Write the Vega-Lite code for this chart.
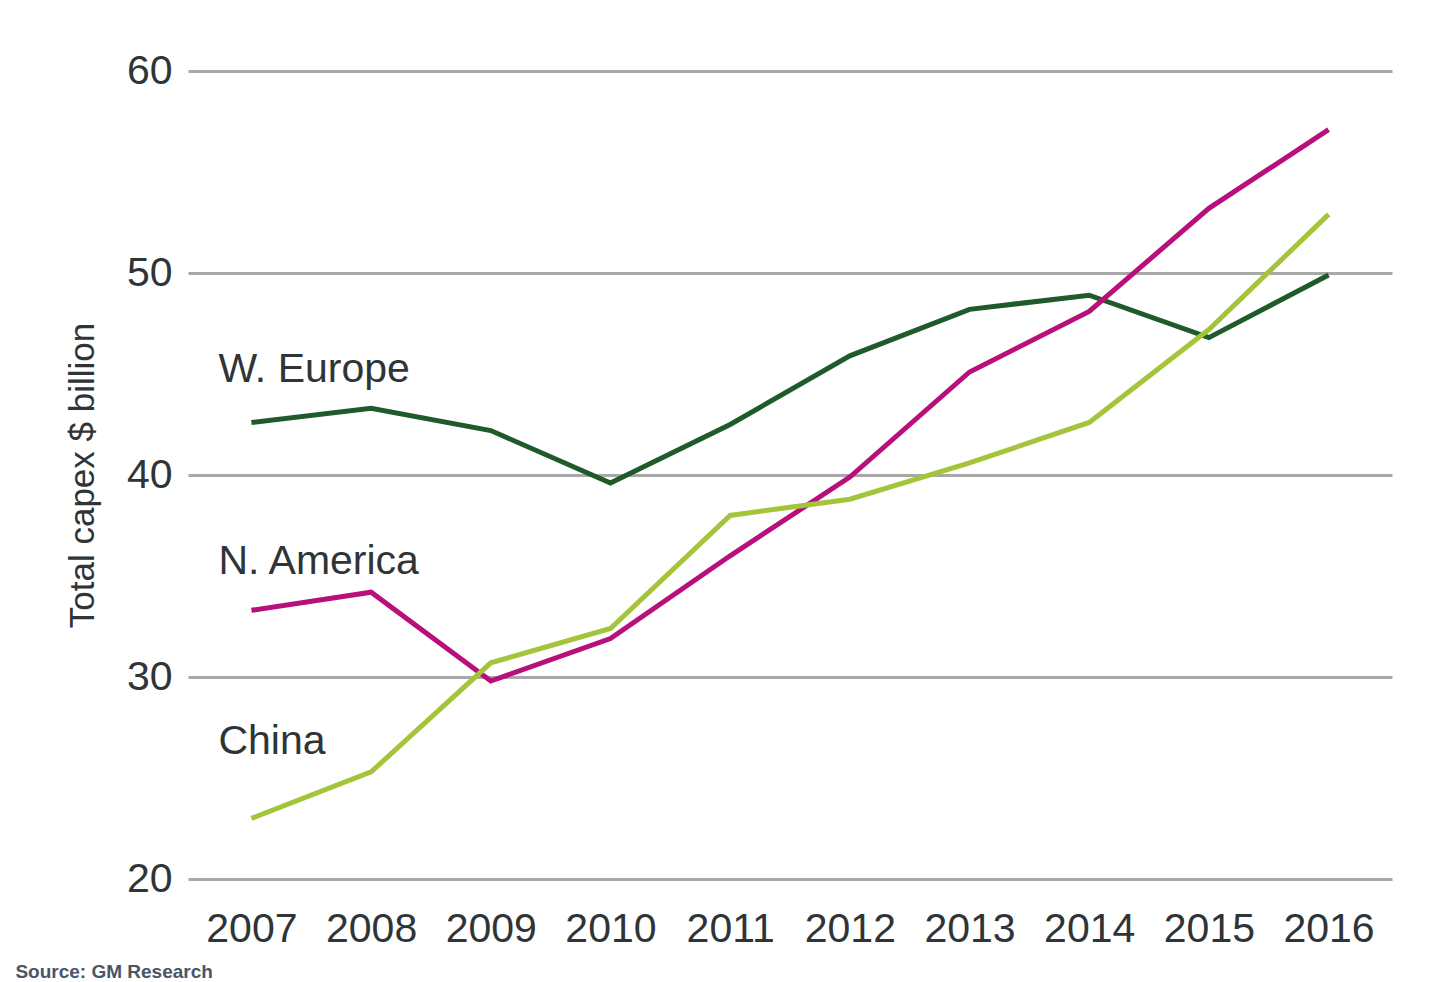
{
  "$schema": "https://vega.github.io/schema/vega-lite/v6.json",
  "width": 1435,
  "height": 982,
  "autosize": {"type": "fit", "contains": "padding"},
  "padding": {"left": 15, "top": 50, "right": 43, "bottom": 0},
  "background": "#ffffff",
  "config": {
    "font": "Liberation Sans",
    "view": {"stroke": null}
  },
  "title": {
    "text": "Source: GM Research",
    "orient": "bottom",
    "anchor": "start",
    "frame": "bounds",
    "dx": -50,
    "offset": 14,
    "fontSize": 19,
    "fontWeight": "bold",
    "color": "#4a5566",
    "font": "Liberation Sans"
  },
  "datasets": {
    "series": [
      {"year": "2007", "region": "W. Europe", "capex": 42.6},
      {"year": "2008", "region": "W. Europe", "capex": 43.3},
      {"year": "2009", "region": "W. Europe", "capex": 42.2},
      {"year": "2010", "region": "W. Europe", "capex": 39.6},
      {"year": "2011", "region": "W. Europe", "capex": 42.5},
      {"year": "2012", "region": "W. Europe", "capex": 45.9},
      {"year": "2013", "region": "W. Europe", "capex": 48.2},
      {"year": "2014", "region": "W. Europe", "capex": 48.9},
      {"year": "2015", "region": "W. Europe", "capex": 46.8},
      {"year": "2016", "region": "W. Europe", "capex": 49.9},
      {"year": "2007", "region": "N. America", "capex": 33.3},
      {"year": "2008", "region": "N. America", "capex": 34.2},
      {"year": "2009", "region": "N. America", "capex": 29.8},
      {"year": "2010", "region": "N. America", "capex": 31.9},
      {"year": "2011", "region": "N. America", "capex": 36.0},
      {"year": "2012", "region": "N. America", "capex": 39.9},
      {"year": "2013", "region": "N. America", "capex": 45.1},
      {"year": "2014", "region": "N. America", "capex": 48.1},
      {"year": "2015", "region": "N. America", "capex": 53.2},
      {"year": "2016", "region": "N. America", "capex": 57.1},
      {"year": "2007", "region": "China", "capex": 23.0},
      {"year": "2008", "region": "China", "capex": 25.3},
      {"year": "2009", "region": "China", "capex": 30.7},
      {"year": "2010", "region": "China", "capex": 32.4},
      {"year": "2011", "region": "China", "capex": 38.0},
      {"year": "2012", "region": "China", "capex": 38.8},
      {"year": "2013", "region": "China", "capex": 40.6},
      {"year": "2014", "region": "China", "capex": 42.6},
      {"year": "2015", "region": "China", "capex": 47.2},
      {"year": "2016", "region": "China", "capex": 52.9}
    ],
    "labels": [
      {"year": "2007", "label": "W. Europe", "capex": 45.2},
      {"year": "2007", "label": "N. America", "capex": 35.7},
      {"year": "2007", "label": "China", "capex": 26.8}
    ]
  },
  "encoding": {
    "x": {
      "field": "year",
      "type": "ordinal",
      "scale": {"type": "point", "padding": 0.53},
      "axis": {
        "title": null,
        "labelAngle": 0,
        "labelFontSize": 41,
        "labelColor": "#2f3437",
        "labelPadding": 30,
        "ticks": false,
        "domain": false,
        "grid": false
      }
    },
    "y": {
      "field": "capex",
      "type": "quantitative",
      "scale": {"domain": [20, 60], "nice": false, "zero": false},
      "axis": {
        "title": "Total capex $ billion",
        "titleFontSize": 35,
        "titleFontWeight": "normal",
        "titleColor": "#2f3437",
        "titlePadding": 26,
        "values": [20, 30, 40, 50, 60],
        "labelFontSize": 41,
        "labelColor": "#2f3437",
        "labelPadding": 16,
        "ticks": false,
        "domain": false,
        "grid": true,
        "gridColor": "#a8a8a8",
        "gridWidth": 3
      }
    }
  },
  "layer": [
    {
      "data": {"name": "series"},
      "mark": {"type": "line", "strokeWidth": 5, "strokeJoin": "miter"},
      "encoding": {
        "color": {
          "field": "region",
          "type": "nominal",
          "legend": null,
          "scale": {
            "domain": ["W. Europe", "N. America", "China"],
            "range": ["#1f5a2a", "#b8107a", "#a4c43a"]
          }
        }
      }
    },
    {
      "data": {"name": "labels"},
      "mark": {"type": "text", "align": "left", "baseline": "middle", "dx": -33, "fontSize": 41, "color": "#2f3437"},
      "encoding": {
        "text": {"field": "label"}
      }
    }
  ]
}
